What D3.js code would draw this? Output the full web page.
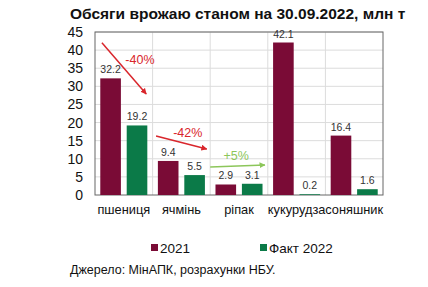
<!DOCTYPE html>
<html lang="uk">
<head>
<meta charset="UTF-8">
<title>Обсяги врожаю</title>
<script src="https://d3js.org/d3.v7.min.js"></script>
<style>
  body { margin: 0; background: #fff; }
  text { font-family: "Liberation Sans", Arial, sans-serif; }
</style>
</head>
<body>
<svg id="chart" width="428" height="287"></svg>
<script>
const categories = ["пшениця", "ячмінь", "ріпак", "кукурудза", "соняшник"];
const values2021 = [32.2, 9.4, 2.9, 42.1, 16.4];
const values2022 = [19.2, 5.5, 3.1, 0.2, 1.6];
const seriesNames = ["2021", "Факт 2022"];
const yTicks = [0, 5, 10, 15, 20, 25, 30, 35, 40, 45];
// arrows: [category pos start, value start, category pos end, value end], label pos
const arrows = [
  { label: "-40%", from: [0.12, 42], to: [0.89, 27.9], at: [0.78, 37.3], color: "#d9262c" },
  { label: "-42%", from: [1.06, 16.3], to: [1.94, 12.7], at: [1.61, 17.1], color: "#d9262c" },
  { label: "+5%",  from: [2.0, 7.7],  to: [2.95, 8.3],  at: [2.45, 10.8], color: "#8cc65a" }
];

const colors = ["#7a0b36", "#0b7a48"];
const svg = d3.select("#chart");
const m = { left: 95, right: 383, top: 32, bottom: 195 };

const x = d3.scaleBand().domain(categories).range([m.left, m.right]);
const xPos = d3.scaleLinear().domain([0, categories.length]).range([m.left, m.right]);
const y = d3.scaleLinear().domain([0, 45]).range([m.bottom, m.top]);

// title
svg.append("text").attr("x", 70).attr("y", 19)
  .attr("font-size", 15.5).attr("font-weight", "bold").attr("fill", "#111")
  .text("Обсяги врожаю станом на 30.09.2022, млн т");

// grid
svg.append("g").selectAll("line").data(yTicks.slice(1)).join("line")
  .attr("x1", m.left).attr("x2", m.right)
  .attr("y1", d => y(d)).attr("y2", d => y(d))
  .attr("stroke", "#dcdcdc").attr("stroke-width", 1);
svg.append("g").selectAll("line").data(categories.slice(1)).join("line")
  .attr("x1", d => x(d)).attr("x2", d => x(d))
  .attr("y1", m.top).attr("y2", m.bottom)
  .attr("stroke", "#dcdcdc").attr("stroke-width", 1);

// frame
svg.append("rect").attr("x", m.left).attr("y", m.top)
  .attr("width", m.right - m.left).attr("height", m.bottom - m.top)
  .attr("fill", "none").attr("stroke", "#666").attr("stroke-width", 1);

// y axis
const yAxis = svg.append("g").attr("transform", `translate(${m.left},0)`)
  .call(d3.axisLeft(y).tickValues(yTicks).tickSize(0).tickPadding(12));
yAxis.select(".domain").remove();
yAxis.selectAll("text").attr("font-size", 14).attr("fill", "#111")
  .attr("font-family", "Liberation Sans, Arial, sans-serif");

// x axis
const xAxis = svg.append("g").attr("transform", `translate(0,${m.bottom})`)
  .call(d3.axisBottom(x).tickSize(0).tickPadding(10));
xAxis.select(".domain").remove();
xAxis.selectAll("text").attr("font-size", 12.8).attr("fill", "#111")
  .attr("font-family", "Liberation Sans, Arial, sans-serif");

// bars
const inner = d3.scaleBand().domain([0, 1]).range([0, x.bandwidth()]).paddingInner(0.22).paddingOuter(0.2);
[values2021, values2022].forEach((vals, si) => {
  const g = svg.append("g");
  g.selectAll("rect").data(vals).join("rect")
    .attr("x", (d, i) => x(categories[i]) + inner(si))
    .attr("width", inner.bandwidth())
    .attr("y", d => y(d)).attr("height", d => y(0) - y(d))
    .attr("fill", colors[si]);
  g.selectAll("text").data(vals).join("text")
    .attr("x", (d, i) => x(categories[i]) + inner(si) + inner.bandwidth() / 2)
    .attr("y", d => y(d) - 5)
    .attr("text-anchor", "middle").attr("font-size", 10.5).attr("fill", "#333")
    .text(d => d.toFixed(1));
});

// arrows
const defs = svg.append("defs");
arrows.forEach((a, i) => {
  defs.append("marker").attr("id", "ah" + i)
    .attr("viewBox", "0 0 10 10").attr("refX", 9).attr("refY", 5)
    .attr("markerWidth", 4).attr("markerHeight", 4).attr("orient", "auto")
    .append("path").attr("d", "M0,0L10,5L0,10Z").attr("fill", a.color);
  svg.append("line")
    .attr("x1", xPos(a.from[0])).attr("y1", y(a.from[1]))
    .attr("x2", xPos(a.to[0])).attr("y2", y(a.to[1]))
    .attr("stroke", a.color).attr("stroke-width", 1.5)
    .attr("marker-end", `url(#ah${i})`);
  svg.append("text").attr("x", xPos(a.at[0])).attr("y", y(a.at[1]))
    .attr("dy", "0.35em").attr("text-anchor", "middle")
    .attr("font-size", 12.5).attr("fill", a.color).text(a.label);
});

// legend
const legendX = [151, 260];
seriesNames.forEach((name, i) => {
  svg.append("rect").attr("x", legendX[i]).attr("y", 244)
    .attr("width", 7).attr("height", 7).attr("fill", colors[i]);
  svg.append("text").attr("x", legendX[i] + 9).attr("y", 252.5)
    .attr("font-size", 13.5).attr("fill", "#111").text(name);
});

// source
svg.append("text").attr("x", 70).attr("y", 274)
  .attr("font-size", 12.5).attr("fill", "#111")
  .text("Джерело: МінАПК, розрахунки НБУ.");
</script>
</body>
</html>
